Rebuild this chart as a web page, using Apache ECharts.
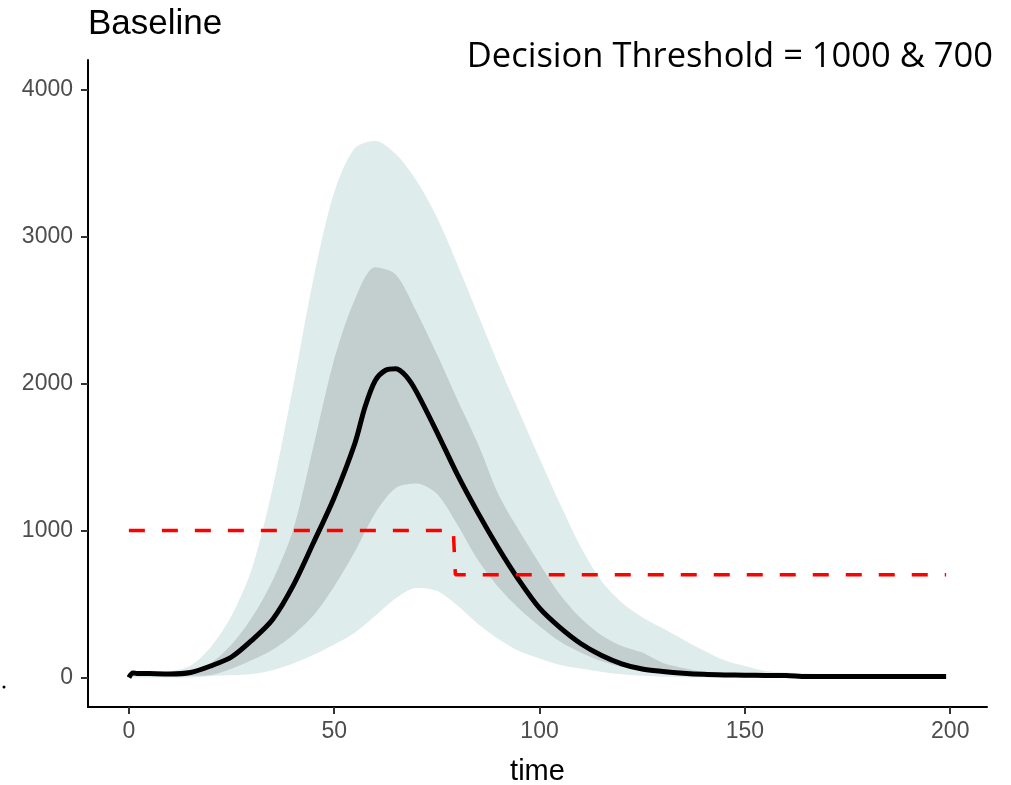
<!DOCTYPE html>
<html>
<head>
<meta charset="utf-8">
<script src="https://cdn.jsdelivr.net/npm/echarts@6/dist/echarts.min.js"></script>
<style>
  html, body { margin: 0; padding: 0; background: #fff; }
  #chart { width: 1011px; height: 785px; }
</style>
</head>
<body>
<div id="chart"></div>
<script>
// time grid for the bands
const time = [0, 5, 10, 15, 20, 25, 30, 35, 40, 45, 50, 55, 60, 65, 70, 75, 80, 85, 90, 95,
  100, 105, 110, 115, 120, 125, 130, 135, 140, 145, 150, 155, 160, 165, 170, 175, 180, 185, 190, 195, 199]

// outer band (light)
const outerUpper = [25, 30, 42, 80, 210, 420, 745, 1290, 1980, 2720, 3300, 3600, 3650, 3560, 3380, 3130, 2810, 2470, 2130, 1810,
  1490, 1180, 890, 660, 510, 410, 335, 258, 185, 118, 78, 45, 35, 27, 20, 16, 13, 11, 9, 8, 7]
const outerLower = [0, 0, 0, 0, 10, 17, 25, 50, 95, 155, 225, 305, 420, 540, 610, 590, 490, 365, 262, 180,
  130, 86, 62, 40, 22, 12, 6, 3, 0, 0, 0, 0, 0, 0, 0, 0, 0, 0, 0, 0, 0]

// inner band (dark)
const innerUpper = [30, 32, 35, 45, 100, 225, 410, 660, 1005, 1580, 2165, 2570, 2790, 2740, 2490, 2200, 1890, 1590, 1245, 1000,
  775, 565, 405, 290, 215, 170, 100, 66, 38, 22, 15, 12, 11, 10, 8, 7, 6, 6, 5, 5, 5]
const innerLower = [10, 12, 14, 12, 18, 60, 120, 190, 290, 425, 620, 855, 1120, 1290, 1320, 1250, 1040, 800, 615, 470,
  350, 245, 170, 112, 72, 46, 30, 20, 13, 9, 6, 5, 4, 3, 3, 2, 2, 2, 2, 2, 2]

// median line
const medianTime = [0, 1, 2, 5, 10, 15, 20, 25, 30, 35, 40, 45, 50, 55, 57.5, 60, 62.5, 65, 67.5, 70, 75, 80, 85, 90, 95,
  100, 105, 110, 115, 120, 125, 130, 135, 140, 145, 150, 155, 160, 165, 170, 175, 180, 185, 190, 195, 199]
const median = [0, 32, 28, 27, 25, 35, 80, 140, 255, 395, 625, 920, 1225, 1590, 1840, 2020, 2090, 2100, 2050, 1945, 1670, 1380, 1120, 880, 662,
  472, 340, 232, 152, 94, 58, 42, 30, 22, 18, 16, 15, 14, 7, 7, 7, 7, 7, 7, 7, 7]

// decision threshold
const thresholdTime = [0, 79, 79.5, 199]
const thresholdValue = [1000, 1000, 700, 700]

const xTicks = [0, 50, 100, 150, 200]
const yTicks = [0, 1000, 2000, 3000, 4000]

const pairs = (xs, ys) => xs.map((x, i) => [x, ys[i]])
// value first so the stack sums the y values, not time
const stackPairs = (xs, ys) => xs.map((x, i) => [ys[i], x])
const diff = (hi, lo) => hi.map((v, i) => v - lo[i])

const chart = echarts.init(document.getElementById('chart'))

const labelFont = "'Liberation Sans', Arial, sans-serif"

const band = {
  type: 'line',
  symbol: 'none',
  silent: true,
  smooth: 0.3,
  encode: { x: 1, y: 0 },
  lineStyle: { width: 0, opacity: 0 }
}

chart.setOption({
  animation: false,
  title: [
    {
      text: 'Baseline',
      left: 88,
      top: 7,
      padding: 0,
      textStyle: { fontFamily: labelFont, fontSize: 35, fontWeight: 'normal', color: '#000' }
    },
    {
      text: 'Decision Threshold = 1000 & 700',
      right: 18,
      top: 40,
      padding: 0,
      textStyle: { fontFamily: "'Open Sans', sans-serif", fontSize: 34.5, fontWeight: 'normal', color: '#000' }
    }
  ],
  grid: { left: 88, right: 24, top: 60, bottom: 78, containLabel: false, outerBoundsMode: 'none' },
  xAxis: {
    type: 'value',
    min: -9.95,
    max: 208.95,
    name: 'time',
    nameLocation: 'middle',
    nameGap: 50,
    nameTextStyle: { fontFamily: labelFont, fontSize: 29, color: '#000' },
    axisLine: { onZero: false, lineStyle: { color: '#000', width: 2 } },
    axisTick: { customValues: xTicks, length: 7, lineStyle: { color: '#333', width: 2 } },
    axisLabel: { customValues: xTicks, margin: 13, fontFamily: labelFont, fontSize: 23, color: '#4d4d4d' },
    splitLine: { show: false }
  },
  yAxis: {
    type: 'value',
    min: -200,
    max: 4200,
    axisLine: { show: true, onZero: false, lineStyle: { color: '#000', width: 2 } },
    axisTick: { show: true, customValues: yTicks, length: 7, lineStyle: { color: '#333', width: 2 } },
    axisLabel: {
      customValues: yTicks, margin: 15, fontFamily: labelFont, fontSize: 23, color: '#4d4d4d',
      formatter: (v) => String(v)
    },
    splitLine: { show: false }
  },
  series: [
    { ...band, name: 'outerBase', stack: 'outer', data: stackPairs(time, outerLower) },
    {
      ...band, name: 'outer', stack: 'outer',
      data: stackPairs(time, diff(outerUpper, outerLower)),
      areaStyle: { color: '#deeceb', opacity: 1 }
    },
    { ...band, name: 'innerBase', stack: 'inner', data: stackPairs(time, innerLower) },
    {
      ...band, name: 'inner', stack: 'inner',
      data: stackPairs(time, diff(innerUpper, innerLower)),
      areaStyle: { color: '#c3cfce', opacity: 1 }
    },
    {
      name: 'median',
      type: 'line',
      symbol: 'none',
      smooth: 0.3,
      data: pairs(medianTime, median),
      lineStyle: { color: '#000', width: 5 }
    },
    {
      name: 'threshold',
      type: 'line',
      symbol: 'none',
      data: pairs(thresholdTime, thresholdValue),
      lineStyle: { color: '#ff0000', width: 3.5, type: [16, 17] }
    }
  ],
  graphic: [
    { type: 'circle', shape: { cx: 4, cy: 687, r: 1.5 }, style: { fill: '#000' } }
  ]
})

window.addEventListener('resize', () => chart.resize())
</script>
</body>
</html>
